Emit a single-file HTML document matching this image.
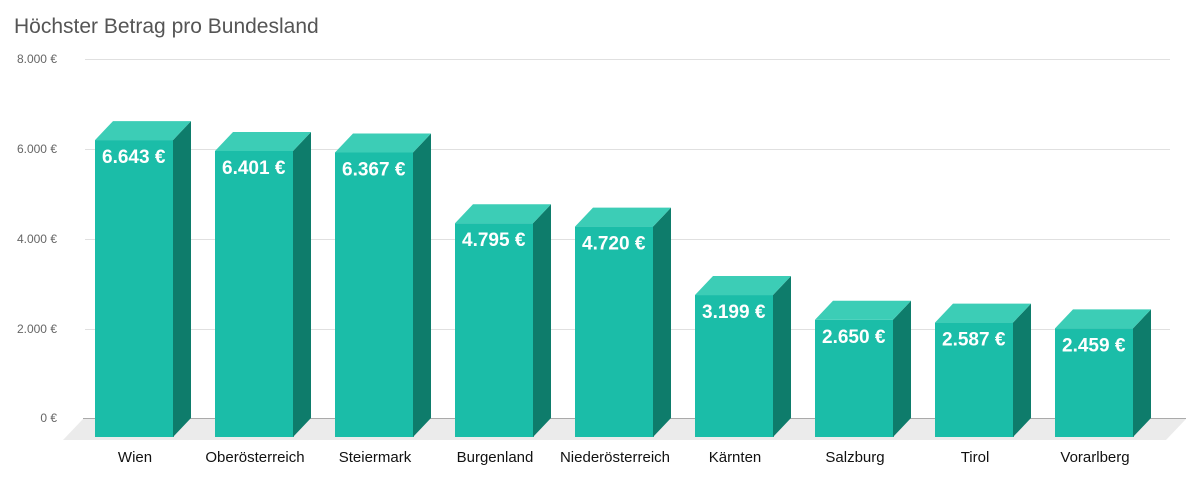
<!DOCTYPE html><html><head><meta charset="utf-8"><style>body{margin:0;background:#fff}svg{display:block}</style></head><body>
<svg width="1193" height="478" xmlns="http://www.w3.org/2000/svg" font-family="Liberation Sans, Arial, sans-serif">
<text x="14" y="33" font-size="21" fill="#555">Höchster Betrag pro Bundesland</text>
<g stroke="#e0e0e0" stroke-width="1">
<line x1="85" x2="1170" y1="59.5" y2="59.5"/><line x1="85" x2="1170" y1="149.5" y2="149.5"/><line x1="85" x2="1170" y1="239.5" y2="239.5"/><line x1="85" x2="1170" y1="329.5" y2="329.5"/>
</g>
<g font-size="12" fill="#666" text-anchor="end">
<text x="57" y="63">8.000 €</text><text x="57" y="153">6.000 €</text><text x="57" y="243">4.000 €</text><text x="57" y="333">2.000 €</text><text x="57" y="422">0 €</text>
</g>
<polygon points="63,440 83,419 1186,419 1166,440" fill="#ebebeb"/>
<line x1="83" x2="1186" y1="418.5" y2="418.5" stroke="#aaa"/>
<g id="bars"></g>
<g font-size="15" fill="#111" text-anchor="middle" id="cats"></g>
</svg>
<script>
var d=[["Wien",6643,"6.643 €"],["Oberösterreich",6401,"6.401 €"],["Steiermark",6367,"6.367 €"],["Burgenland",4795,"4.795 €"],["Niederösterreich",4720,"4.720 €"],["Kärnten",3199,"3.199 €"],["Salzburg",2650,"2.650 €"],["Tirol",2587,"2.587 €"],["Vorarlberg",2459,"2.459 €"]];
var s="",c="";
d.forEach(function(r,i){var x=95+120*i,bt=420-r[1]*0.045,ft=bt+19;
s+='<rect x="'+x+'" y="'+ft+'" width="79" height="'+(437-ft)+'" fill="#1bbda8"/>';
s+='<polygon points="'+(x+78)+','+ft+' '+(x+96)+','+bt+' '+(x+96)+',418 '+(x+78)+',437" fill="#0e7c6b"/>';
s+='<polygon points="'+x+','+ft+' '+(x+18)+','+bt+' '+(x+96)+','+bt+' '+(x+78)+','+ft+'" fill="#3ccdb6"/>';
s+='<text x="'+(x+7)+'" y="'+(ft+23)+'" font-size="19" font-weight="bold" fill="#fff">'+r[2]+'</text>';
c+='<text x="'+(x+40)+'" y="462">'+r[0]+'</text>';});
document.getElementById("bars").innerHTML=s;document.getElementById("cats").innerHTML=c;
</script>
</body></html>
